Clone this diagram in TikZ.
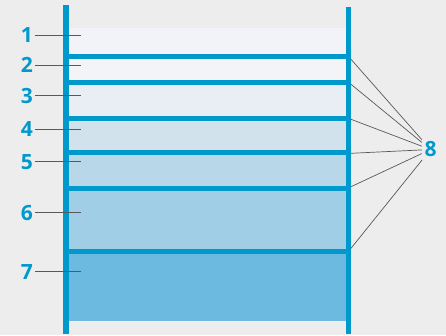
\documentclass[tikz,border=0pt]{standalone}
\usepackage{xcolor}
\usepackage{fontspec}
\newfontfamily\numfont{Open Sans}
\usepackage{tikz}
\usetikzlibrary{positioning}

\definecolor{postblue}{HTML}{0099CC}
\definecolor{bggray}{HTML}{EDEDED}
\definecolor{layerA}{HTML}{F2F3F8}
\definecolor{layerB}{HTML}{F2F4F8}
\definecolor{layerC}{HTML}{E8EEF3}
\definecolor{layerD}{HTML}{D1E2EC}
\definecolor{layerE}{HTML}{B8D7E9}
\definecolor{layerF}{HTML}{A0CEE6}
\definecolor{layerG}{HTML}{6CBAE0}

\begin{document}
\begin{tikzpicture}[x=1pt, y=-1pt,
    num/.style={text=postblue, font=\numfont\bfseries\fontsize{21}{21}\selectfont, inner sep=2pt},
    leader/.style={draw=black!65, line width=0.7pt},
    bar/.style={draw=postblue, line width=5pt}]
    \useasboundingbox[fill=bggray] (0,0) rectangle (446,335);

    % layers, top to bottom
    \fill[layerA] (68,28) rectangle (346,56);
    \fill[layerB] (68,56) rectangle (346,82.7);
    \fill[layerC] (68,82.7) rectangle (346,118.7);
    \fill[layerD] (68,118.7) rectangle (346,152);
    \fill[layerE] (68,152) rectangle (346,188);
    \fill[layerF] (68,188) rectangle (346,251);
    \fill[layerG] (68,251) rectangle (346,321);

    \foreach \y in {56,82.7,118.7,152,188,251}
        \draw[bar] (63,\y) -- (351,\y);

    % posts
    \fill[postblue] (63,5) rectangle (68.5,334);
    \fill[postblue] (345.7,7) rectangle (351,334);

    % labels 1-7
    \foreach \n/\y in {1/35,2/65,3/95.7,4/129,5/161.7,6/212.7,7/271.7} {
        \node[num, anchor=east] (l\n) at (35,\y) {\n};
        \coordinate (t\n) at (81,\y);
        \draw[leader] (l\n.east) -- (t\n);
    }

    % label 8
    \node[num, inner sep=2.5pt] (l8) at (430.5,149.5) {8};
    \foreach \k/\y in {1/59.3,2/84.3,3/119.3,4/153.3,5/186.7,6/248.3} {
        \coordinate (r\k) at (351,\y);
        \draw[leader] (r\k) -- (l8);
    }
\end{tikzpicture}
\end{document}
